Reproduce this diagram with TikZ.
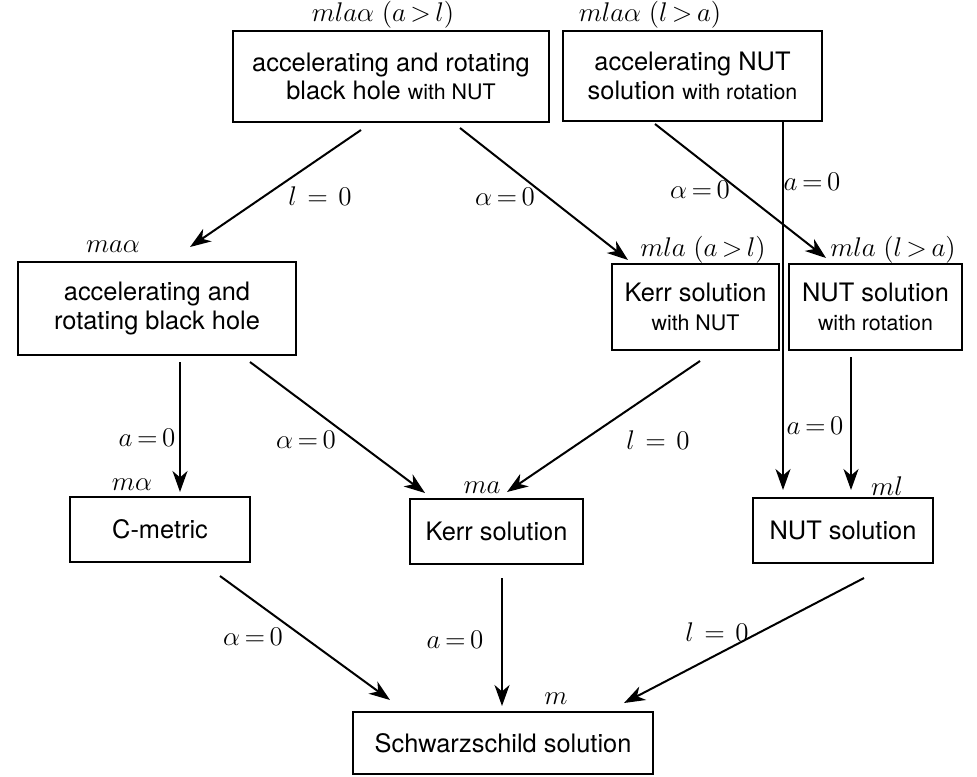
\RequirePackage{fix-cm}
\documentclass[tikz,border=0pt]{standalone}
\usepackage{fontspec}
\setmainfont{TeX Gyre Heros}
\usetikzlibrary{arrows.meta}
\newcommand\smtx{\fontsize{10.7}{13.5}\selectfont}
\begin{document}
\begin{tikzpicture}[x=0.5pt,y=-0.5pt,
  box/.style={draw, line width=1.2pt, align=center, inner sep=0pt,
    font=\fontsize{12.7}{14.2}\selectfont},
  arr/.style={line width=1pt, -{Stealth[length=10.5pt,width=7.5pt,inset=3.2pt]}},
  lab/.style={inner sep=0pt, font=\fontsize{13.5}{15}\selectfont}]
\useasboundingbox (0,0) rectangle (977,776);
% boxes
\node[box, minimum width=158pt, minimum height=45.5pt] (b1) at (391,76.5)
  {accelerating and rotating\\black hole {\smtx with NUT}};
\node[box, minimum width=129.5pt, minimum height=45pt] (b2) at (692.5,76)
  {accelerating NUT\\solution {\smtx with rotation}};
\node[box, minimum width=139pt, minimum height=46.5pt] (b3) at (157,308.5)
  {accelerating and\\rotating black hole};
\node[box, minimum width=83.5pt, minimum height=43pt] (b4) at (695.5,307)
  {Kerr solution\\{\smtx with NUT}};
\node[box, minimum width=86.5pt, minimum height=43pt] (b5) at (875.5,307)
  {NUT solution\\{\smtx with rotation}};
\node[box, minimum width=90pt, minimum height=32.5pt] (b6) at (160,529.5) {C-metric};
\node[box, minimum width=86.5pt, minimum height=32.5pt] (b7) at (496.5,531.5) {Kerr solution};
\node[box, minimum width=90pt, minimum height=32.5pt] (b8) at (843,530.5) {NUT solution};
\node[box, minimum width=150pt, minimum height=31pt] (b9) at (503,743) {Schwarzschild solution};
% parameter labels
\node[lab] (p1) at (383,15) {$mla\alpha\ (a\mkern-2mu>\mkern-2mu l)$};
\node[lab] (p2) at (650,15) {$mla\alpha\ (l\mkern-2mu>\mkern-2mu a)$};
\node[lab] (p3) at (113,247) {$ma\alpha$};
\node[lab] (p4) at (703,250) {$mla\ (a\mkern-2mu>\mkern-2mu l)$};
\node[lab] (p5) at (893,250) {$mla\ (l\mkern-2mu>\mkern-2mu a)$};
\node[lab] (p6) at (132,485) {$m\alpha$};
\node[lab] (p7) at (482,488) {$ma$};
\node[lab] (p8) at (887,486) {$ml$};
\node[lab] (p9) at (556,699) {$m$};
% connector end points
\coordinate (s1) at (361,130);  \coordinate (e1) at (190,247);
\coordinate (s2) at (460,128);  \coordinate (e2) at (628,260);
\coordinate (s3) at (655,124);  \coordinate (e3) at (826,258);
\coordinate (s4) at (783,121);  \coordinate (e4) at (783,490);
\coordinate (s5) at (180,362);  \coordinate (e5) at (180,492);
\coordinate (s6) at (250,362);  \coordinate (e6) at (425,493);
\coordinate (s7) at (700,361);  \coordinate (e7) at (507,492);
\coordinate (s8) at (851,357);  \coordinate (e8) at (851,490);
\coordinate (s9) at (220,576);  \coordinate (e9) at (390,700);
\coordinate (s10) at (502,578); \coordinate (e10) at (502,706);
\coordinate (s11) at (864,578); \coordinate (e11) at (624,703);
\draw[arr] (s1) -- (e1);
\draw[arr] (s2) -- (e2);
\draw[arr] (s3) -- (e3);
\draw[arr] (s4) -- (e4);
\draw[arr] (s5) -- (e5);
\draw[arr] (s6) -- (e6);
\draw[arr] (s7) -- (e7);
\draw[arr] (s8) -- (e8);
\draw[arr] (s9) -- (e9);
\draw[arr] (s10) -- (e10);
\draw[arr] (s11) -- (e11);
% connector labels
\node[lab] (l1) at (320,196) {$l\mskip2mu=\mskip2mu0$};
\node[lab] (l2) at (505,197) {$\alpha\mkern-2mu=\mkern-2mu0$};
\node[lab] (l3) at (700,190) {$\alpha\mkern-2mu=\mkern-2mu0$};
\node[lab] (l4) at (812,182) {$a\mkern-2mu=\mkern-2mu0$};
\node[lab] (l5) at (147,438) {$a\mkern-2mu=\mkern-2mu0$};
\node[lab] (l6) at (306,440) {$\alpha\mkern-2mu=\mkern-2mu0$};
\node[lab] (l7) at (658,440) {$l\mskip2mu=\mskip2mu0$};
\node[lab] (l8) at (815,426) {$a\mkern-2mu=\mkern-2mu0$};
\node[lab] (l9) at (253,637) {$\alpha\mkern-2mu=\mkern-2mu0$};
\node[lab] (l10) at (455,640) {$a\mkern-2mu=\mkern-2mu0$};
\node[lab] (l11) at (717,632) {$l\mskip2mu=\mskip2mu0$};
\end{tikzpicture}
\end{document}
